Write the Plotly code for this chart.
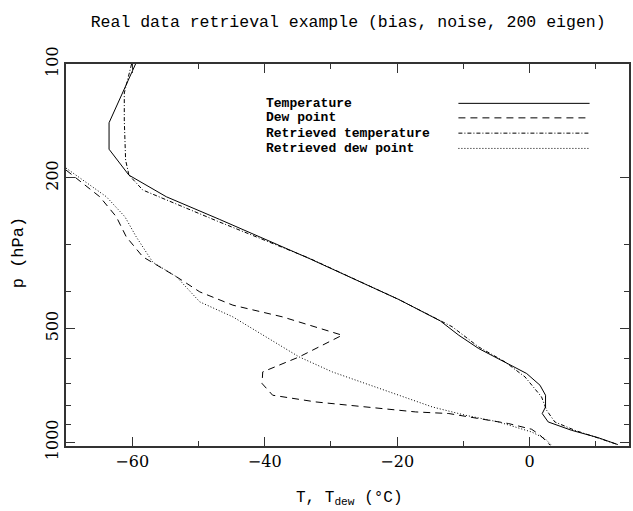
import plotly.graph_objects as go
import math

# ---- data ----
p_temp = [100, 143, 168, 196.7, 224.4, 257.6, 326.6, 419.4, 477.6, 521.2, 565.1,
          613.3, 658.1, 706.6, 751, 806.5, 839.6, 883.7, 929.4, 971.8, 1014]
t_temp = [-59.5, -63.5, -63.5, -60.5, -54.85, -46.8, -33.3, -19.75, -13.5, -10.7, -7.7,
          -3.7, -0.45, 1.56, 2.4, 2.4, 1.9, 2.8, 6.3, 10.3, 13.3]

p_dew = [190.7, 224.4, 253.5, 286.3, 323.4, 365.3, 400.4, 434.1, 466.2, 490.4, 521.2,
         594.8, 651.6, 699.3, 751, 782.3, 806.5, 831.4, 839.6, 874.6, 892.3, 923.9, 958.3, 1018.4]
t_dew = [-70.0, -64.9, -62.4, -60.9, -58.4, -53.3, -49.8, -44.8, -37.3, -33.3, -28.3,
         -34.8, -40.3, -40.4, -38.8, -32.3, -24.8, -17.2, -12.2, -6.2, -3.2, 0.3, 1.6, 3.1]

p_rtemp = [100, 119.3, 140.6, 179.5, 196.6, 215.4, 261.8, 326.0, 419.4, 477.6, 494.9,
           559.7, 613.3, 671.8, 758.9, 822.8, 883.7, 929.4, 1014]
t_rtemp = [-60.1, -61.2, -61.2, -61.0, -60.5, -58.4, -46.8, -33.3, -19.75, -13.5, -11.7,
           -7.7, -3.7, -0.7, 1.8, 2.56, 3.8, 6.8, 13.3]

p_rdew = [188.4, 224.4, 253.5, 286.3, 334.2, 365.3, 425.5, 466.2, 526.6, 594.8, 651.6,
          699.3, 751, 806.5, 848.3, 883.7, 939.3, 977.7, 1018.4]
t_rdew = [-70.0, -63.9, -61.1, -59.4, -56.9, -53.3, -49.8, -44.8, -39.8, -34.8, -29.8,
          -24.8, -19.8, -14.7, -9.7, -4.7, 0.3, 2.3, 3.3]

series_names = ["Temperature", "Dew point", "Retrieved temperature", "Retrieved dew point"]
series_dash = ["solid", "7px,5px", "4px,2px,1px,2px", "1px,2px"]

x_major = [-60, -40, -20, 0]
x_minor = [-50, -30, -10, 10]
y_major = [100, 200, 500, 1000]
y_minor = [300, 400, 600, 700, 800, 900]

FONT = "DejaVu Serif"
MONO = "Liberation Mono"
AX = "#333333"

fig = go.Figure()
for (t, p), name, dash in zip([(t_temp, p_temp), (t_dew, p_dew), (t_rtemp, p_rtemp), (t_rdew, p_rdew)],
                              series_names, series_dash):
    fig.add_trace(go.Scatter(x=t, y=p, mode="lines", name=name,
                             line=dict(color="black", width=1, dash=dash),
                             showlegend=False))

# custom legend: text on the left, line sample on the right
leg_y = [0.897, 0.859, 0.819, 0.779]
for name, dash, yy in zip(series_names, series_dash, leg_y):
    fig.add_annotation(x=0.352, y=yy, xref="paper", yref="paper", text="<b>" + name + "</b>",
                       showarrow=False, xanchor="left", yanchor="middle",
                       font=dict(family=MONO, size=13, color="black"))
    fig.add_shape(type="line", xref="paper", yref="paper", x0=0.697, x1=0.930, y0=yy, y1=yy,
                  line=dict(color="black", width=1, dash=dash))

fig.add_annotation(x=0.503, y=-0.137, xref="paper", yref="paper",
                   text="T, T<sub>dew</sub> (°C)", showarrow=False,
                   xanchor="center", yanchor="middle",
                   font=dict(family=MONO, size=16, color="black"))
fig.add_annotation(x=-0.085, y=0.505, xref="paper", yref="paper",
                   text="p (hPa)", showarrow=False, textangle=-90,
                   xanchor="center", yanchor="middle",
                   font=dict(family=MONO, size=17, color="black"))

fig.update_layout(
    width=633, height=511,
    margin=dict(l=66, r=2, t=64, b=65),
    paper_bgcolor="white", plot_bgcolor="white",
    title=dict(text="Real data retrieval example (bias, noise, 200 eigen)",
               x=0.55, xanchor="center", y=0.959, yanchor="middle",
               font=dict(family=MONO, size=16.5, color="black")),
    font=dict(family=FONT, size=16, color="black"),
)
fig.update_xaxes(range=[-70, 15], tickvals=x_major, ticktext=["−60", "−40", "−20", "0"],
                 ticks="inside", ticklen=9, tickcolor=AX, tickwidth=1,
                 minor=dict(tickvals=x_minor, ticks="inside", ticklen=5, tickcolor=AX),
                 showline=True, linecolor=AX, linewidth=1.5, mirror="allticks",
                 showgrid=False, zeroline=False,
                 tickfont=dict(family=FONT, size=16, color="black"))
fig.update_yaxes(type="log", range=[math.log10(1023), 2], tickvals=y_major,
                 ticktext=[str(v) for v in y_major], tickangle=-90,
                 ticks="inside", ticklen=9, tickcolor=AX, tickwidth=1,
                 minor=dict(tickvals=y_minor, ticks="inside", ticklen=5, tickcolor=AX),
                 showline=True, linecolor=AX, linewidth=1.5, mirror="allticks",
                 showgrid=False, zeroline=False,
                 tickfont=dict(family=FONT, size=16, color="black"))

fig.write_html("out.html")
